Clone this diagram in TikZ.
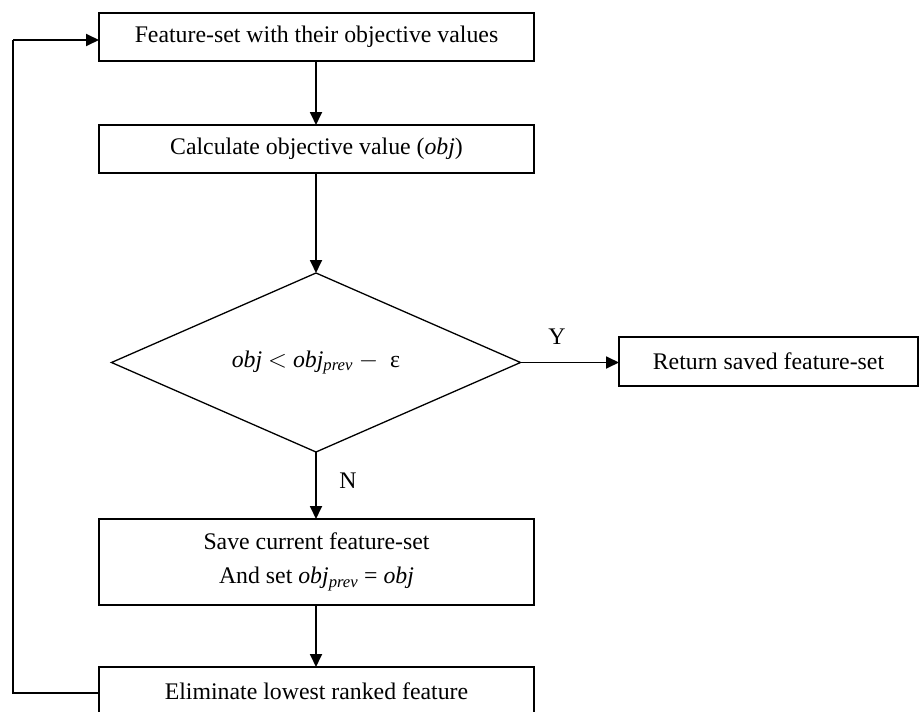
\documentclass[tikz,border=0pt]{standalone}
\usepackage{fontspec}
\setmainfont{Liberation Serif}
\usetikzlibrary{arrows.meta,shapes.geometric}
\newcommand{\ob}{\textit{obj}}
\begin{document}
\begin{tikzpicture}[x=1pt,y=-1pt,
  every node/.style={font=\fontsize{23.8}{34}\selectfont},
  procbox/.style={draw,line width=1.3pt,minimum width=435pt,minimum height=48pt,inner sep=0pt,outer sep=0pt,align=center},
  decbox/.style={draw,line width=1.3pt,diamond,minimum width=409pt,minimum height=179pt,aspect=2.28,inner sep=0pt,outer sep=0pt},
  arr/.style={line width=1.8pt,-{Triangle[length=13pt,width=12pt]}},
  lbl/.style={inner sep=0pt}]
\clip (0,0) rectangle (919,712);
\fill[white] (0,0) rectangle (919,712);
\node[procbox] (b1) at (316.5,37) {Feature-set with their objective values};
\node[procbox] (b2) at (316.5,149) {Calculate objective value (\ob)};
\node[decbox] (d) at (316,362.5) {\ob\ $<$ \ob\textsubscript{\textit{prev}} $-$\enspace ε};
\node[procbox,minimum width=299pt,minimum height=49pt] (r) at (768.5,361.5) {Return saved feature-set};
\node[procbox,minimum height=86pt] (b3) at (316.5,562) {Save current feature-set\\And set \ob\textsubscript{\textit{prev}} = \ob};
\node[procbox] (b4) at (316.5,691) {Eliminate lowest ranked feature};
\node[lbl] (ly) at (557,337) {Y};
\node[lbl] (ln) at (348,481) {N};
\coordinate (fa) at (13,693);
\coordinate (fb) at (13,40);
\draw[arr] (b1.south -| d.north) -- (b2.north -| d.north);
\draw[arr] (b2.south -| d.north) -- (d.north);
\draw[arr] (d.east) -- (r.west |- d.east);
\draw[arr] (d.south) -- (b3.north -| d.south);
\draw[arr] (b3.south -| d.south) -- (b4.north -| d.south);
\draw[line width=1.3pt] (b4.west |- fa) -- (fa) -- (fb);
\draw[arr] (fb) -- (b1.west |- fb);
\end{tikzpicture}
\end{document}
